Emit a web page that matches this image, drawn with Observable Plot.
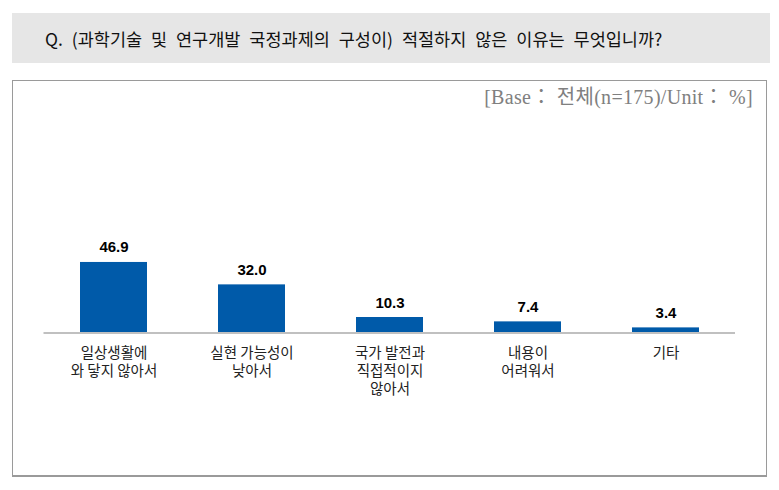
<!DOCTYPE html>
<html>
<head>
<meta charset="utf-8">
<script src="https://cdn.jsdelivr.net/npm/d3@7"></script>
<script src="https://cdn.jsdelivr.net/npm/@observablehq/plot@0.6"></script>
<style>
  html, body { margin: 0; padding: 0; background: #fff; }
  body { width: 779px; height: 490px; position: relative; overflow: hidden; font-family: "Noto Sans CJK KR", "Noto Sans", sans-serif; }
  #header { position: absolute; left: 12px; top: 13px; width: 758px; height: 50px; background: #e6e6e6; }
  #header span { position: absolute; left: 33px; top: 13px; font-size: 17.5px; line-height: 26px; color: #111; word-spacing: 5px; white-space: nowrap; }
  #box { position: absolute; left: 12px; top: 80px; width: 753px; height: 394px; border: 1px solid #9a9a9a; border-bottom-width: 2px; }
  #base { position: absolute; right: 26px; top: 84px; font-family: "Liberation Serif", "Noto Sans CJK KR", serif; font-size: 20px; line-height: 26px; color: #808080; white-space: pre; letter-spacing: 0.3px; }
  #chart { position: absolute; left: 0; top: 0; }
</style>
</head>
<body>
<div id="header"><span id="title"></span></div>
<div id="box"></div>
<div id="base"></div>
<div id="chart"></div>
<script>
const titleText = "Q. (과학기술 및 연구개발 국정과제의 구성이) 적절하지 않은 이유는 무엇입니까?";
const baseText = "[Base： 전체(n=175)/Unit： %]";
const categories = ["일상생활에\n와 닿지 않아서", "실현 가능성이\n낮아서", "국가 발전과\n직접적이지\n않아서", "내용이\n어려워서", "기타"];
const values = [46.9, 32.0, 10.3, 7.4, 3.4];
const valueLabels = ["46.9", "32.0", "10.3", "7.4", "3.4"];

document.getElementById("title").textContent = titleText;
document.getElementById("base").textContent = baseText;

const data = categories.map((c, i) => ({category: c, value: values[i], label: valueLabels[i]}));

const chart = Plot.plot({
  width: 779,
  height: 490,
  marginLeft: 43.5,
  marginRight: 44,
  marginTop: 257.3,
  marginBottom: 157.5,
  x: {domain: categories, paddingInner: 0.516, paddingOuter: 0.258, axis: null},
  y: {domain: [0, 50], axis: null},
  style: {background: "transparent", overflow: "visible"},
  marks: [
    Plot.barY(data, {x: "category", y: "value", fill: "#005aa9"}),
    Plot.ruleY([0], {stroke: "#c0c0c0", strokeWidth: 2}),
    Plot.text(data, {x: "category", y: "value", text: "label", lineAnchor: "bottom", dy: -10,
      fontSize: 15, fontWeight: "bold", fill: "#000", fontFamily: "Liberation Sans, Arial, sans-serif"}),
    Plot.axisX({tickSize: 0, tickPadding: 12, fontSize: 14.5, lineHeight: 1.25, color: "#222", label: null,
      fontFamily: "Noto Sans CJK KR, sans-serif", textAnchor: "middle"})
  ]
});
document.getElementById("chart").appendChild(chart);
</script>
</body>
</html>
